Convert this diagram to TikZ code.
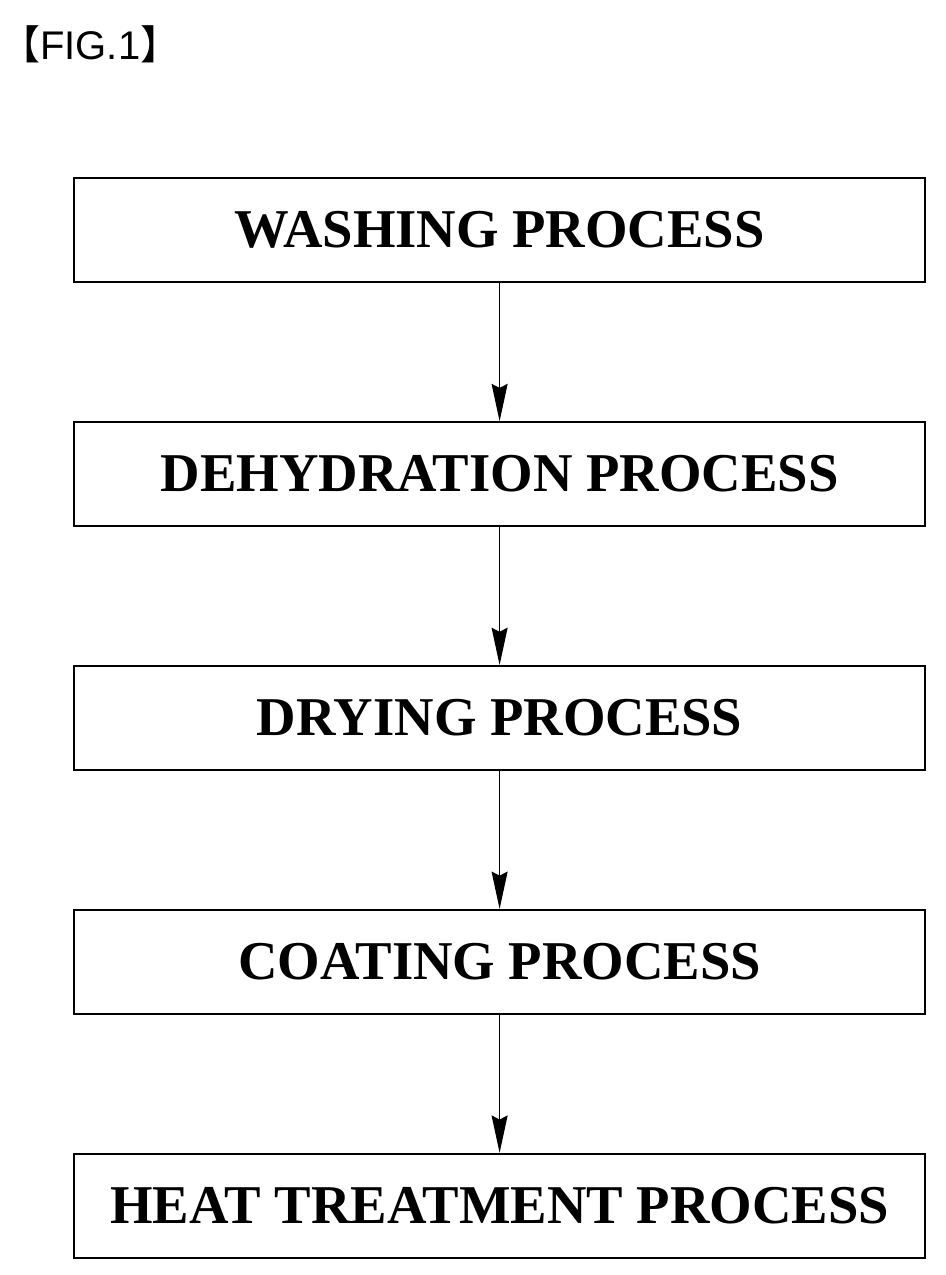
\documentclass[tikz,border=0pt]{standalone}
\usepackage{fontspec}
\setmainfont{Liberation Serif}
\newfontfamily\labelfont{Noto Sans CJK SC}
\newfontfamily\figfont{Liberation Sans}
\usetikzlibrary{positioning,arrows.meta}
\begin{document}
\begin{tikzpicture}[x=1pt,y=1pt,
        node distance=103.5pt,
        process/.style={draw,line width=1.4pt,minimum width=638pt,minimum height=78pt,
                        inner sep=0pt,font=\fontsize{41}{44}\selectfont\bfseries},
        flow/.style={line width=1pt,-{Stealth[length=28pt,width=12pt,inset=3pt]}}]
    \useasboundingbox (0,0) rectangle (709.5,-956.25);
    % figure label
    \node[anchor=west,inner sep=0pt,font=\fontsize{30}{33}\selectfont] (fig) at (0,-33)
        {{\labelfont【}{\figfont FIG.1}{\labelfont】}};
    % process steps
    \node[process,anchor=north west] (wash) at (55,-133) {WASHING PROCESS};
    \node[process,below=of wash] (dehyd) {DEHYDRATION PROCESS};
    \node[process,below=of dehyd] (dry) {DRYING PROCESS};
    \node[process,below=of dry] (coat) {COATING PROCESS};
    \node[process,below=of coat] (heat) {HEAT TREATMENT PROCESS};
    % arrows
    \foreach \a/\b in {wash/dehyd,dehyd/dry,dry/coat,coat/heat}
        \draw[flow] (\a) -- (\b);
\end{tikzpicture}
\end{document}
